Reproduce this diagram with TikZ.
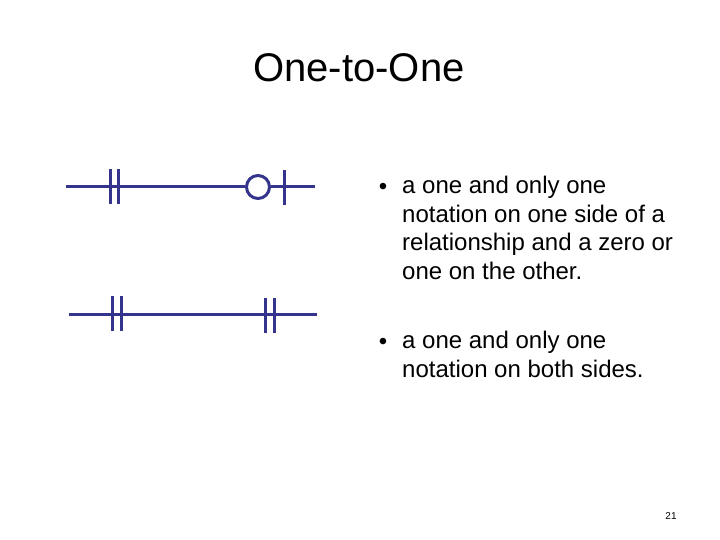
\documentclass[tikz,border=0pt]{standalone}
\usepackage{fontspec}
\setmainfont{Liberation Sans}
\begin{document}
\begin{tikzpicture}[x=1pt,y=-1pt,
  sym/.style={draw={rgb,255:red,52;green,52;blue,140},line width=3pt},
  body/.style={anchor=west,align=left,font=\fontsize{24}{28.5}\selectfont,inner sep=0pt}]
\useasboundingbox (0,0) rectangle (720,540);
\node[font=\fontsize{40}{44}\selectfont] (title) at (359,68) {One-to-One};
% symbol 1
\coordinate (a1) at (66,187); \coordinate (b1) at (315,187);
\node[sym,circle,minimum size=23pt,inner sep=0pt] (c1) at (258,187) {};
\draw[sym] (a1) -- (c1.west) (c1.east) -- (b1);
\draw[sym] (110,169) -- (110,204) (118,169) -- (118,204) (284,170) -- (284,205);
% symbol 2
\coordinate (a2) at (69,314); \coordinate (b2) at (317,314);
\draw[sym] (a2) -- (b2);
\draw[sym] (112,296) -- (112,331) (121,296) -- (121,331) (265,298) -- (265,333) (274,298) -- (274,333);
% text
\node[anchor=center,font=\fontsize{24}{24}\selectfont,inner sep=0pt] (bul1) at (383,189) {•};
\node[body,anchor=north west] (t1) at (402,176) {a one and only one\\notation on one side of a\\relationship and a zero or\\one on the other.};
\node[anchor=center,font=\fontsize{24}{24}\selectfont,inner sep=0pt] (bul2) at (383,344) {•};
\node[body,anchor=north west] (t2) at (402,331) {a one and only one\\notation on both sides.};
\node[font=\fontsize{10}{12}\selectfont] (pg) at (671,516) {21};
\end{tikzpicture}
\end{document}
